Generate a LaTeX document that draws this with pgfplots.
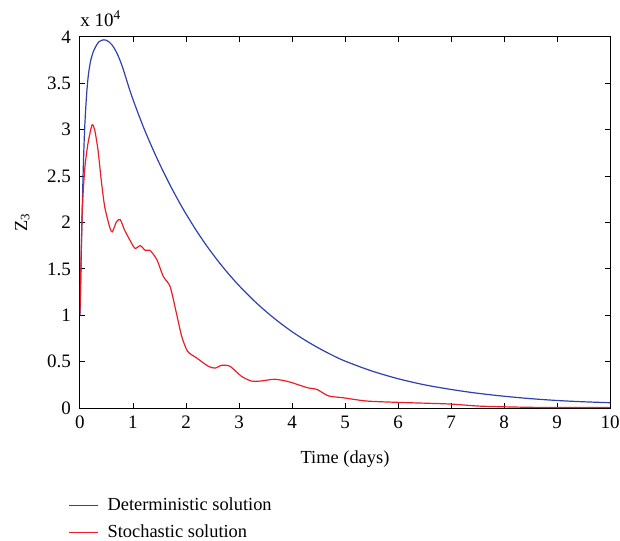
\documentclass[border=0pt]{standalone}
\usepackage{fontspec}
\setmainfont{Liberation Serif}
\usepackage{pgfplots}
\pgfplotsset{compat=1.18}
\definecolor{detblue}{RGB}{45,65,175}
\definecolor{stored}{RGB}{235,30,40}
\newcommand{\fs}{\fontsize{9.2}{11}\selectfont}
\begin{document}
\begin{tikzpicture}
\path[use as bounding box] (-40pt,-66pt) rectangle (270pt,204pt);
\begin{axis}[
  name=main,
  at={(0,0)}, anchor=south west,
  scale only axis, width=265pt, height=185.5pt,
  xmin=0, xmax=10, ymin=0, ymax=4,
  xtick={0,1,...,10}, xticklabels={0,1,2,3,4,5,6,7,8,9,10},
  ytick={0,0.5,...,4}, yticklabels={0,0.5,1,1.5,2,2.5,3,3.5,4},
  tick align=inside, major tick length=2.5pt,
  xtick pos=both, ytick pos=both,
  tick style={black, line width=0.5pt},
  axis line style={black, line width=0.5pt},
  every tick label/.append style={font=\fontsize{9.5}{11}\selectfont},
  yticklabel style={xshift=-1pt},
  xticklabel style={yshift=-0.5pt},
  xlabel={Time (days)},
  ylabel={Z\textsubscript{3}},
  every axis x label/.style={at={(axis description cs:0.5,-0.137)}, anchor=center, font=\fs},
  every axis y label/.style={at={(axis description cs:-0.109,0.5)}, rotate=90, anchor=center, font=\fs},
  legend cell align=left,
  legend style={at={(axis description cs:0,0)}, anchor=north west, xshift=-9pt, yshift=-40.5pt, draw=none, fill=none, font=\fs, row sep=1.8pt},
  legend image code/.code={\draw[#1] (0pt,0pt) -- (14.5pt,0pt); \path (17pt,0pt);},
]
\addplot[detblue, line width=0.6pt, smooth, tension=0.5] coordinates {
(0,1.0) (0.02,1.55) (0.04,2.08) (0.06,2.55) (0.08,2.9) (0.1,3.15) (0.13,3.42) (0.16,3.6) (0.2,3.74) (0.25,3.84) (0.3,3.9) (0.36,3.95) (0.45,3.97) (0.5,3.964) (0.55,3.946) (0.6,3.917) (0.65,3.875) (0.7,3.822) (0.75,3.756) (0.8,3.679) (0.85,3.59) (0.9,3.497) (0.95,3.409) (1.0,3.326) (1.05,3.248) (1.1,3.172) (1.2,3.024) (1.3,2.888) (1.4,2.758) (1.5,2.634) (1.6,2.516) (1.7,2.402) (1.8,2.295) (1.9,2.191) (2.0,2.093) (2.2,1.909) (2.4,1.741) (2.6,1.588) (2.8,1.448) (3.0,1.32) (3.25,1.175) (3.5,1.045) (3.75,0.928) (4.0,0.823) (4.25,0.73) (4.5,0.647) (4.75,0.572) (5,0.506) (5.5,0.40) (6,0.316) (6.5,0.25) (7,0.20) (7.5,0.159) (8,0.127) (8.5,0.101) (9,0.081) (9.5,0.067) (10,0.057)
};
\addlegendentry{Deterministic solution}
\addplot[stored, line width=0.6pt, smooth, tension=0.4] coordinates {
(0,1.02) (0.038,2.06) (0.088,2.57) (0.15,2.85) (0.226,3.05) (0.277,3.0) (0.34,2.78) (0.40,2.46) (0.466,2.17) (0.56,1.95) (0.61,1.90) (0.69,2.01) (0.76,2.03) (0.84,1.92) (0.97,1.78) (1.04,1.72) (1.14,1.75) (1.23,1.70) (1.32,1.70) (1.45,1.60) (1.57,1.42) (1.70,1.31) (1.82,1.02) (1.92,0.77) (2.03,0.61) (2.2,0.54) (2.42,0.45) (2.55,0.43) (2.67,0.46) (2.83,0.45) (3.05,0.34) (3.24,0.29) (3.40,0.29) (3.68,0.31) (3.96,0.28) (4.28,0.22) (4.47,0.20) (4.69,0.13) (4.97,0.11) (5.41,0.075) (6.04,0.06) (6.98,0.043) (7.55,0.02) (8.55,0.007) (10,0.005)
};
\addlegendentry{Stochastic solution}
\end{axis}
\node[anchor=base west, inner sep=0pt, font=\fontsize{9.5}{11}\selectfont] at (0pt,190.5pt) {x 10\textsuperscript{4}};
\end{tikzpicture}
\end{document}
